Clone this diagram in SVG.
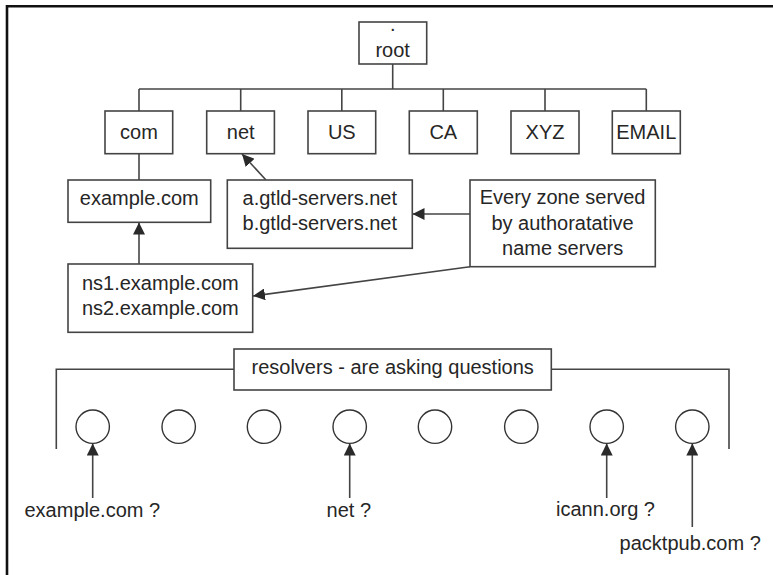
<svg xmlns="http://www.w3.org/2000/svg" width="773" height="575" viewBox="0 0 773 575">
<defs>
<marker id="ah" viewBox="0 0 10 10" refX="10" refY="5" markerWidth="12" markerHeight="12" markerUnits="userSpaceOnUse" orient="auto">
<path d="M0,0 L10,5 L0,10 Z" fill="#2a2a2a"/>
</marker>
<style>
.box{fill:#fff;stroke:#444;stroke-width:1.6}
.ln{fill:none;stroke:#444;stroke-width:1.6}
.ar{fill:none;stroke:#444;stroke-width:1.6;marker-end:url(#ah)}
.c{fill:#fff;stroke:#333;stroke-width:1.4}
text{font-family:"Liberation Sans",Arial,sans-serif;font-size:20px;fill:#262626;text-anchor:middle}
</style>
</defs>
<rect width="773" height="575" fill="#fff"/>
<path d="M7,575 V6.2 H773" fill="none" stroke="#111" stroke-width="2.6"/>
<g id="connectors">
<path class="ln" d="M392.7,64 V89 M139,89 H646.3 M139,89 V111 M240.7,89 V111 M341.8,89 V111 M443.3,89 V111 M545,89 V111 M646.3,89 V111"/>
<path class="ln" d="M139,153.7 V180"/>
<path class="ar" d="M266,180 L242,154"/>
<path class="ar" d="M470,214 L412.5,214"/>
<path class="ar" d="M470,266.7 L253,296"/>
<path class="ar" d="M139,264 V222.5"/>
<path class="ln" d="M234,369.3 H56.3 V449 M551.3,369.3 H729 V449"/>
<path class="ar" d="M92.7,498 V443.5"/>
<path class="ar" d="M349.7,498 V443.5"/>
<path class="ar" d="M606.7,498 V443.5"/>
<path class="ar" d="M692.3,527 V443.5"/>
</g>
<g id="root"><rect class="box" x="359" y="22" width="67.7" height="42"/><text x="392.7" y="31">.</text><text x="392.7" y="57">root</text></g>
<g id="com"><rect class="box" x="105" y="111" width="67.7" height="42.7"/><text x="139" y="139">com</text></g>
<g id="net"><rect class="box" x="206.7" y="111" width="67.7" height="42.7"/><text x="240.7" y="139">net</text></g>
<g id="us"><rect class="box" x="308" y="111" width="67.7" height="42.7"/><text x="341.8" y="139">US</text></g>
<g id="ca"><rect class="box" x="409.3" y="111" width="68" height="42.7"/><text x="443.3" y="139">CA</text></g>
<g id="xyz"><rect class="box" x="511" y="111" width="68" height="42.7"/><text x="545" y="139">XYZ</text></g>
<g id="email"><rect class="box" x="612.3" y="111" width="68" height="42.7"/><text x="646.3" y="139">EMAIL</text></g>
<g id="examplecom"><rect class="box" x="68" y="180" width="142.7" height="42.3"/><text x="139.3" y="205">example.com</text></g>
<g id="gtld"><rect class="box" x="227.3" y="180" width="185" height="68.3"/><text x="319.8" y="205">a.gtld-servers.net</text><text x="319.8" y="230">b.gtld-servers.net</text></g>
<g id="everyzone"><rect class="box" x="470" y="180" width="185.3" height="86.7"/><text x="562.6" y="204">Every zone served</text><text x="562.6" y="229.5">by authoratative</text><text x="562.6" y="255">name servers</text></g>
<g id="ns"><rect class="box" x="68" y="264" width="184.7" height="68.3"/><text x="160.3" y="290">ns1.example.com</text><text x="160.3" y="315">ns2.example.com</text></g>
<g id="resolvers"><rect class="box" x="234" y="349" width="317.3" height="41"/><text x="392.7" y="374.3">resolvers - are asking questions</text></g>
<g id="circles">
<circle class="c" cx="92.7" cy="426.7" r="16.7"/>
<circle class="c" cx="178.7" cy="426.7" r="16.7"/>
<circle class="c" cx="264" cy="426.7" r="16.7"/>
<circle class="c" cx="349.7" cy="426.7" r="16.7"/>
<circle class="c" cx="435" cy="426.7" r="16.7"/>
<circle class="c" cx="521.3" cy="426.7" r="16.7"/>
<circle class="c" cx="606.7" cy="426.7" r="16.7"/>
<circle class="c" cx="692.3" cy="426.7" r="16.7"/>
</g>
<g id="labels">
<text x="92.3" y="516.7">example.com ?</text>
<text x="348.8" y="516.7">net ?</text>
<text x="605.5" y="516">icann.org ?</text>
<text x="690.2" y="550">packtpub.com ?</text>
</g>
</svg>
